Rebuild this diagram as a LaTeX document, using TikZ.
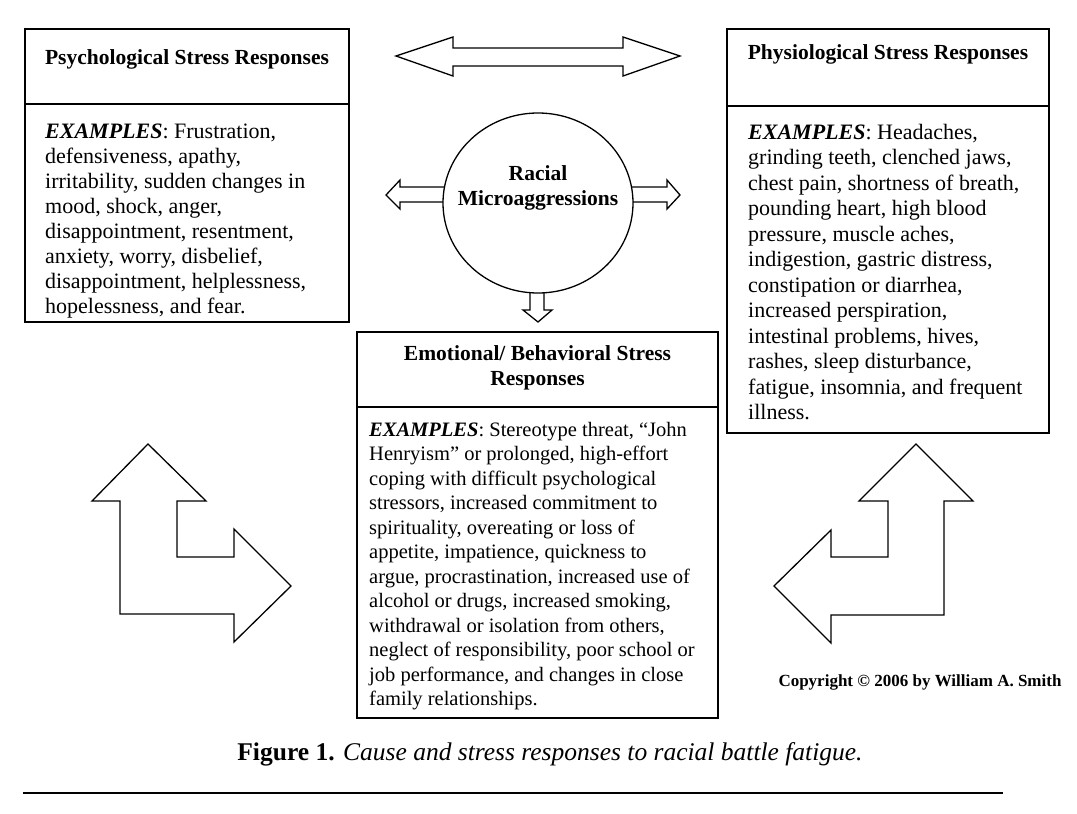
\documentclass[tikz,border=0pt]{standalone}
\usepackage{fontspec}
\setmainfont{Liberation Serif}
\usetikzlibrary{shapes.geometric}
\begin{document}
\begin{tikzpicture}[x=1pt,y=-1pt,line join=miter,
  cell/.style={draw,line width=1.4pt,inner sep=0pt,outer sep=0pt},
  titletxt/.style={font=\fontsize{21.5}{25}\selectfont\bfseries,inner sep=0pt,align=center},
  bodytxt/.style={inner sep=0pt,align=left},
  blockarrow/.style={draw,line width=1.3pt,fill=white}]
\useasboundingbox (0,0) rectangle (1077,814);

% ---- arrows (drawn first, ellipse covers joints)
\draw[blockarrow] (396,56) -- (453,37) -- (453,48) -- (623,48) -- (623,37) -- (680,56) -- (623,76) -- (623,66) -- (453,66) -- (453,76) -- cycle;
\draw[blockarrow] (460,187) -- (400,187) -- (400,180) -- (386,195) -- (400,209) -- (400,202) -- (460,202) -- cycle;
\draw[blockarrow] (615,187) -- (667,187) -- (667,180) -- (680,195) -- (667,209) -- (667,202) -- (615,202) -- cycle;
\draw[blockarrow] (530,270) -- (530,310) -- (523,310) -- (538,322) -- (552,310) -- (544,310) -- (544,270) -- cycle;

\node[draw,line width=1.3pt,fill=white,ellipse,minimum width=190pt,minimum height=180pt,inner sep=0pt] (rm) at (538,203) {};
\node[titletxt,anchor=base] (rmtxt) at (538,205) {Racial\\Microaggressions};

% ---- bent arrows
\draw[blockarrow] (148,444) -- (206,501) -- (177,501) -- (177,557) -- (234,557) -- (234,529) -- (291,586) -- (234,642) -- (234,614) -- (120,614) -- (120,501) -- (92,501) -- cycle;
\draw[blockarrow] (916,444) -- (973,501) -- (944,501) -- (944,615) -- (831,615) -- (831,643) -- (774,586) -- (831,530) -- (831,557) -- (888,557) -- (888,501) -- (859,501) -- cycle;

% ---- left box
\node[cell,minimum width=324pt,minimum height=75pt] (psyhead) at (187,66.5) {};
\node[cell,minimum width=324pt,minimum height=218pt] (psybody) at (187,213) {};
\node[titletxt,anchor=base] (psytitle) at (187,64) {Psychological Stress Responses};
\node[bodytxt,font=\fontsize{22}{25}\selectfont,anchor=base west] (psytext) at (45,313) {\textbf{\textit{EXAMPLES}}: Frustration,\\defensiveness, apathy,\\irritability, sudden changes in\\mood, shock, anger,\\disappointment, resentment,\\anxiety, worry, disbelief,\\disappointment, helplessness,\\hopelessness, and fear.};

% ---- right box
\node[cell,minimum width=322pt,minimum height=77pt] (phyhead) at (888,67.5) {};
\node[cell,minimum width=322pt,minimum height=327pt] (phybody) at (888,269.5) {};
\node[titletxt,anchor=base] (phytitle) at (888,59) {Physiological Stress Responses};
\node[bodytxt,font=\fontsize{22}{25.5}\selectfont,anchor=base west] (phytext) at (748,419.5) {\textbf{\textit{EXAMPLES}}: Headaches,\\grinding teeth, clenched jaws,\\chest pain, shortness of breath,\\pounding heart, high blood\\pressure, muscle aches,\\indigestion, gastric distress,\\constipation or diarrhea,\\increased perspiration,\\intestinal problems, hives,\\rashes, sleep disturbance,\\fatigue, insomnia, and frequent\\illness.};

% ---- center box
\node[cell,minimum width=361pt,minimum height=75pt] (emohead) at (537.5,369.5) {};
\node[cell,minimum width=361pt,minimum height=311pt] (emobody) at (537.5,562.5) {};
\node[titletxt,anchor=base] (emotitle) at (537.5,385) {Emotional/ Behavioral Stress\\Responses};
\node[bodytxt,font=\fontsize{20.5}{24.5}\selectfont,anchor=base west] (emotext) at (369,705.5) {\textbf{\textit{EXAMPLES}}: Stereotype threat, “John\\Henryism” or prolonged, high-effort\\coping with difficult psychological\\stressors, increased commitment to\\spirituality, overeating or loss of\\appetite, impatience, quickness to\\argue, procrastination, increased use of\\alcohol or drugs, increased smoking,\\withdrawal or isolation from others,\\neglect of responsibility, poor school or\\job performance, and changes in close\\family relationships.};

% ---- copyright and caption
\node[inner sep=0pt,font=\fontsize{17}{19}\selectfont\bfseries,anchor=base] (copy) at (920,686) {Copyright © 2006 by William A. Smith};
\node[inner sep=0pt,font=\fontsize{25.5}{28}\selectfont,anchor=base] (caption) at (550,760) {\textbf{Figure 1.} \textit{Cause and stress responses to racial battle fatigue.}};
\coordinate (ruleL) at (23,793);
\coordinate (ruleR) at (1003,793);
\draw[line width=2pt] (ruleL) -- (ruleR);
\end{tikzpicture}
\end{document}
